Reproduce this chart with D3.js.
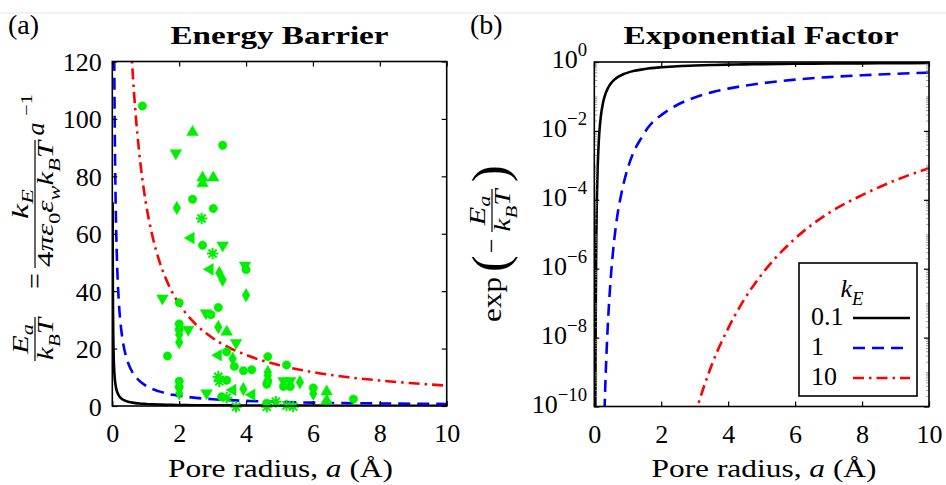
<!DOCTYPE html>
<html>
<head>
<meta charset="utf-8">
<script src="https://cdn.jsdelivr.net/npm/d3@7"></script>
<style>
  body { margin: 0; background: #fff; }
  svg { display: block; }
  svg text { font-family: "Liberation Serif", "Times New Roman", serif; }
</style>
</head>
<body>
<svg width="946" height="485"></svg>
<script>
// Pore radius grid (Angstrom) the barrier curves were read at
const radius = [0.01, 0.015, 0.02, 0.03, 0.04, 0.05, 0.06, 0.07, 0.08, 0.1, 0.12, 0.15, 0.2, 0.25, 0.3,
  0.35, 0.4, 0.45, 0.5, 0.6, 0.7, 0.8, 0.9, 1, 1.2, 1.4, 1.6, 1.8, 2, 2.5, 3, 3.5, 4, 4.5, 5, 6, 7, 8, 9, 10];

// Ea/kBT for each k_E
const barrierK01 = [71.0, 47.3, 35.5, 23.7, 17.75, 14.2, 11.83, 10.14, 8.875, 7.1, 5.92, 4.73, 3.55, 2.84, 2.37,
  2.03, 1.775, 1.58, 1.42, 1.18, 1.01, 0.89, 0.79, 0.71, 0.59, 0.51, 0.44, 0.39, 0.355, 0.284, 0.237, 0.203, 0.178, 0.158, 0.142, 0.118, 0.101, 0.089, 0.079, 0.071];
const barrierK1 = [710, 473, 355, 237, 177.5, 142, 118.3, 101.4, 88.75, 71, 59.2, 47.3, 35.5, 28.4, 23.7,
  20.3, 17.75, 15.8, 14.2, 11.8, 10.1, 8.9, 7.9, 7.1, 5.9, 5.1, 4.4, 3.9, 3.55, 2.84, 2.37, 2.03, 1.78, 1.58, 1.42, 1.18, 1.01, 0.89, 0.79, 0.71];
const barrierK10 = [7100, 4733, 3550, 2367, 1775, 1420, 1183, 1014, 888, 710, 592, 473, 355, 284, 237,
  203, 178, 158, 142, 118, 101.4, 88.8, 78.9, 71, 59.2, 50.7, 44.4, 39.4, 35.5, 28.4, 23.7, 20.3, 17.8, 15.8, 14.2, 11.8, 10.1, 8.9, 7.9, 7.1];

const kLabels = ["0.1", "1", "10"];

// Measured pores (green markers)
const scatterRadius = [0.9, 2.4, 3.3, 1.9, 2.7, 2.7, 3.02, 2.4, 1.93, 3.02, 2.67, 2.35, 2.7, 3.3, 3.0, 2.92, 3.2, 3.3,
  3.97, 4.0, 4.0, 1.5, 2.0, 3.17, 2.8, 2.95, 2.0, 2.0, 2.0, 2.0, 2.27, 3.17, 3.42, 3.7, 1.65, 3.17, 3.42, 3.6, 3.65,
  3.92, 4.17, 3.17, 3.2, 3.42, 2.0, 2.0, 2.0, 2.82, 3.27, 3.42, 3.6, 3.92, 4.17, 3.7, 4.65, 5.21, 4.65, 4.65, 4.65,
  4.62, 5.12, 5.12, 5.32, 5.32, 5.61, 6.01, 6.01, 6.41, 6.41, 7.21, 4.62, 4.62, 4.89, 5.21, 5.41];
const scatterBarrier = [104.5, 95.4, 90.8, 88.1, 79.5, 77.5, 79.5, 72, 69, 68.8, 65.3, 58.5, 56, 56, 53.1, 47.6, 46.3, 44,
  49, 47.5, 38.6, 37.5, 36, 34.3, 32.4, 31.8, 28.6, 26.6, 24.8, 22.2, 26.6, 27.5, 25.8, 22, 17.4, 17.7, 18.9, 16.5, 13.8,
  12.3, 12.6, 10.2, 8.6, 9.0, 8.6, 6.6, 4.4, 4.5, 3.2, 2.9, 5.6, 5.9, 3.9, -0.3, 17.2, 14.3, 11.8, 10.6, 8.6,
  7.6, 8.8, 6.8, 8.8, 6.8, 8.3, 6.3, 4.3, 5.0, 1.9, 2.4, 1.0, -0.3, 1.5, 0.2, -0.2];
const scatterShape = ["o", "^", "o", "v", "^", "^", "^", "o", "d", "o", "*", "<", "o", "v", "*", "<", "d", "d",
  "v", "o", "d", "v", "o", "o", "v", "o", "o", "o", "d", "d", "v", "d", "^", "v", "o", "<", "o", "d", "o",
  "o", "o", "*", "*", "o", "o", "o", "d", "v", "o", "*", "<", "d", "<", "*", "o", "o", "d", "d", "o",
  "o", "v", "o", "v", "o", "d", "o", "d", "^", "^", "o", "o", "*", "*", "*", "*"];

const barrierTicks = [0, 20, 40, 60, 80, 100, 120];
const radiusTicks = [0, 2, 4, 6, 8, 10];
const factorExponents = [0, -2, -4, -6, -8, -10];

const svg = d3.select("svg");
const GREEN = "#00ee00";
const series = [
  { k: kLabels[0], values: barrierK01, color: "#000", dash: null },
  { k: kLabels[1], values: barrierK1, color: "#0000ff", dash: "12,7" },
  { k: kLabels[2], values: barrierK10, color: "#ff0000", dash: "11,5,2.5,5" }
];

// faint rule at top of the page
svg.append("line").attr("x1", 0).attr("x2", 946).attr("y1", 13).attr("y2", 13)
  .attr("stroke", "#e4e4e4").attr("stroke-width", 1);

// Little helper for math-ish labels: parts are [text, flags] with i=italic, s=sub, p=sup
function mathText(g, x, y, parts, size, anchor, subDrop) {
  const t = g.append("text").attr("x", x).attr("y", y)
    .attr("font-size", size).attr("text-anchor", anchor || "middle");
  const drop = subDrop == null ? 0.3 : subDrop;
  let shift = 0;
  parts.forEach(([s, fl]) => {
    fl = fl || "";
    const small = fl.includes("s") || fl.includes("p");
    const target = fl.includes("s") ? size * drop : fl.includes("p") ? -size * 0.45 : 0;
    t.append("tspan")
      .attr("dy", target - shift)
      .attr("font-size", small ? size * 0.72 : size)
      .attr("font-style", fl.includes("i") ? "italic" : "normal")
      .text(s);
    shift = target;
  });
  return t;
}

// ---------- Panel (a) ----------
const xA = d3.scaleLinear().domain([0, 10]).range([112.3, 446.7]);
const yA = d3.scaleLinear().domain([0, 120]).range([406, 61.5]);

svg.append("clipPath").attr("id", "clipA").append("rect")
  .attr("x", xA(0)).attr("y", yA(120)).attr("width", xA(10) - xA(0)).attr("height", yA(0) - yA(120));

const gA = svg.append("g");
const lineA = d3.line().x((d, i) => xA(radius[i])).y(d => yA(d)).curve(d3.curveMonotoneX);

gA.append("g").attr("clip-path", "url(#clipA)")
  .selectAll("path").data(series).enter().append("path")
  .attr("d", d => lineA(d.values))
  .attr("fill", "none")
  .attr("stroke", d => d.color)
  .attr("stroke-width", 2.6)
  .attr("stroke-dasharray", d => d.dash);

// green markers
const triangle = d3.symbol().type(d3.symbolTriangle).size(58);
const circle = d3.symbol().type(d3.symbolCircle).size(56);
const diamond = d3.symbol().type(d3.symbolDiamond).size(52);
const star8 = {
  draw(ctx, size) {
    const r = Math.sqrt(size) / 2;
    for (let i = 0; i < 4; i++) {
      const a = i * Math.PI / 4;
      ctx.moveTo(r * Math.cos(a), r * Math.sin(a));
      ctx.lineTo(-r * Math.cos(a), -r * Math.sin(a));
    }
  }
};
const asterisk = d3.symbol().type(star8).size(130);

const pts = scatterRadius.map((r, i) => ({ r: r, e: scatterBarrier[i], s: scatterShape[i] }));
gA.append("g").selectAll("path").data(pts).enter().append("path")
  .attr("transform", d => {
    const rot = d.s === "v" ? 180 : d.s === "<" ? -90 : 0;
    return `translate(${xA(d.r)},${yA(d.e)}) rotate(${rot})`;
  })
  .attr("d", d => d.s === "o" ? circle() : d.s === "d" ? diamond() : d.s === "*" ? asterisk() : triangle())
  .attr("fill", d => d.s === "*" ? "none" : GREEN)
  .attr("stroke", GREEN)
  .attr("stroke-width", d => d.s === "*" ? 2 : 0.5);

// axes, ticks inside on all four sides
function styleAxis(g) {
  g.attr("font-family", null).attr("font-size", null);
  g.select(".domain").remove();
  g.selectAll(".tick line").attr("stroke", "#000").attr("stroke-width", 1.2);
  g.selectAll("text").attr("font-size", 26).attr("fill", "#000");
}
gA.append("g").attr("transform", `translate(0,${yA(0)})`)
  .call(d3.axisBottom(xA).tickValues(radiusTicks).tickSize(-5).tickFormat(d3.format("d")))
  .call(styleAxis)
  .call(g => g.selectAll("text").attr("y", 36).attr("dy", null));
gA.append("g").attr("transform", `translate(0,${yA(120)})`)
  .call(d3.axisTop(xA).tickValues(radiusTicks).tickSize(-5).tickFormat(""))
  .call(styleAxis);
gA.append("g").attr("transform", `translate(${xA(0)},0)`)
  .call(d3.axisLeft(yA).tickValues(barrierTicks).tickSize(-5).tickFormat(d3.format("d")))
  .call(styleAxis)
  .call(g => g.selectAll("text").attr("x", -10.5).attr("dy", 9));
gA.append("g").attr("transform", `translate(${xA(10)},0)`)
  .call(d3.axisRight(yA).tickValues(barrierTicks).tickSize(-5).tickFormat(""))
  .call(styleAxis);

gA.append("rect")
  .attr("x", xA(0)).attr("y", yA(120)).attr("width", xA(10) - xA(0)).attr("height", yA(0) - yA(120))
  .attr("fill", "none").attr("stroke", "#000").attr("stroke-width", 1.6);

svg.append("text").attr("x", 279.5).attr("y", 44).attr("text-anchor", "middle")
  .attr("font-size", 26).attr("font-weight", "bold")
  .attr("textLength", 218).attr("lengthAdjust", "spacingAndGlyphs")
  .text("Energy Barrier");
svg.append("text").attr("x", 8).attr("y", 34).attr("font-size", 28).text("(a)");
mathText(svg, 280.5, 477, [["Pore radius, "], ["a", "i"], [" (Å)"]], 26)
  .attr("textLength", 225).attr("lengthAdjust", "spacingAndGlyphs");

// y label of panel (a): Ea/kBT = kE/(4 pi eps0 epsw kB T) a^-1
const labA = svg.append("g").attr("transform", "translate(35,361) rotate(-90)");
labA.append("line").attr("x1", 0).attr("x2", 44).attr("stroke", "#000").attr("stroke-width", 1.2);
mathText(labA, 22, -7, [["E", "i"], ["a", "is"]], 23, "middle", 0.2).attr("textLength", 30).attr("lengthAdjust", "spacingAndGlyphs");
mathText(labA, 22, 18, [["k", "i"], ["B", "is"], ["T", "i"]], 23).attr("textLength", 42).attr("lengthAdjust", "spacingAndGlyphs");
mathText(labA, 80, 9, [["="]], 28);
labA.append("line").attr("x1", 93).attr("x2", 221).attr("stroke", "#000").attr("stroke-width", 1.2);
mathText(labA, 157, -7, [["k", "i"], ["E", "is"]], 23, "middle", 0.2).attr("textLength", 30).attr("lengthAdjust", "spacingAndGlyphs");
mathText(labA, 157, 18, [["4"], ["π", "i"], ["ε", "i"], ["0", "s"], ["ε", "i"], ["w", "is"], ["k", "i"], ["B", "is"], ["T", "i"]], 23)
  .attr("textLength", 126).attr("lengthAdjust", "spacingAndGlyphs");
mathText(labA, 232, 9, [["a", "i"]], 26);
mathText(labA, 256, -3, [["−1"]], 17).attr("textLength", 22).attr("lengthAdjust", "spacingAndGlyphs");

// ---------- Panel (b) ----------
const xB = d3.scaleLinear().domain([0, 10]).range([594.3, 929]);
const yB = d3.scaleLog().domain([1e-10, 1]).range([406.5, 62]);

svg.append("clipPath").attr("id", "clipB").append("rect")
  .attr("x", xB(0)).attr("y", yB(1)).attr("width", xB(10) - xB(0)).attr("height", yB(1e-10) - yB(1));

const gB = svg.append("g");
// exp(-Ea/kBT); points far under the axis floor are left out
const lineB = d3.line()
  .x(d => xB(d.r)).y(d => yB(d.f)).curve(d3.curveMonotoneX);
gB.append("g").attr("clip-path", "url(#clipB)")
  .selectAll("path").data(series).enter().append("path")
  .attr("d", d => lineB(d.values.map((e, i) => ({ r: radius[i], f: Math.exp(-e) })).filter(p => p.f > 1e-13)))
  .attr("fill", "none")
  .attr("stroke", d => d.color)
  .attr("stroke-width", 2.6)
  .attr("stroke-dasharray", d => d.dash);

gB.append("g").attr("transform", `translate(0,${yB(1e-10)})`)
  .call(d3.axisBottom(xB).tickValues(radiusTicks).tickSize(-5).tickFormat(d3.format("d")))
  .call(styleAxis)
  .call(g => g.selectAll("text").attr("y", 36).attr("dy", null));
gB.append("g").attr("transform", `translate(0,${yB(1)})`)
  .call(d3.axisTop(xB).tickValues(radiusTicks).tickSize(-5).tickFormat(""))
  .call(styleAxis);

// log minor ticks
const minor = [];
for (let p = -10; p < 0; p++) for (let m = 2; m <= 9; m++) minor.push(m * Math.pow(10, p));
for (let p = -9; p < 0; p += 2) minor.push(Math.pow(10, p));
[[xB(0), "axisLeft"], [xB(10), "axisRight"]].forEach(([x, kind]) => {
  gB.append("g").attr("transform", `translate(${x},0)`)
    .call(d3[kind](yB).tickValues(minor).tickSize(-3).tickFormat(""))
    .call(styleAxis)
    .call(g => g.selectAll(".tick line").attr("stroke", "#888").attr("stroke-width", 0.8));
  gB.append("g").attr("transform", `translate(${x},0)`)
    .call(d3[kind](yB).tickValues(factorExponents.map(p => Math.pow(10, p))).tickSize(-5).tickFormat(""))
    .call(styleAxis);
});

// y tick labels 10^p
factorExponents.forEach(p => {
  const y = yB(Math.pow(10, p));
  mathText(gB, 587, y + 6, [["10"], [p === 0 ? "0" : "−" + (-p), "p"]], 26, "end");
});

gB.append("rect")
  .attr("x", xB(0)).attr("y", yB(1)).attr("width", xB(10) - xB(0)).attr("height", yB(1e-10) - yB(1))
  .attr("fill", "none").attr("stroke", "#000").attr("stroke-width", 1.6);

svg.append("text").attr("x", 761).attr("y", 44).attr("text-anchor", "middle")
  .attr("font-size", 26).attr("font-weight", "bold")
  .attr("textLength", 275).attr("lengthAdjust", "spacingAndGlyphs")
  .text("Exponential Factor");
svg.append("text").attr("x", 470).attr("y", 34).attr("font-size", 28).text("(b)");
mathText(svg, 764, 477, [["Pore radius, "], ["a", "i"], [" (Å)"]], 26)
  .attr("textLength", 225).attr("lengthAdjust", "spacingAndGlyphs");

// y label of panel (b): exp(-Ea/kBT)
const labB = svg.append("g").attr("transform", "translate(492,322) rotate(-90)");
labB.append("text").attr("x", 0).attr("y", 9).attr("font-size", 28)
  .attr("textLength", 45).attr("lengthAdjust", "spacingAndGlyphs").text("exp");
labB.append("text").attr("x", 50).attr("y", 15).attr("font-size", 50).text("(");
labB.append("text").attr("x", 69).attr("y", 8).attr("font-size", 26).text("−");
labB.append("line").attr("x1", 90).attr("x2", 133).attr("stroke", "#000").attr("stroke-width", 1.2);
mathText(labB, 111.5, -7, [["E", "i"], ["a", "is"]], 23, "middle", 0.2).attr("textLength", 30).attr("lengthAdjust", "spacingAndGlyphs");
mathText(labB, 111.5, 18, [["k", "i"], ["B", "is"], ["T", "i"]], 23).attr("textLength", 42).attr("lengthAdjust", "spacingAndGlyphs");
labB.append("text").attr("x", 140).attr("y", 15).attr("font-size", 50).text(")");

// legend
const leg = svg.append("g");
leg.append("rect").attr("x", 799).attr("y", 263).attr("width", 118).attr("height", 133)
  .attr("fill", "#fff").attr("stroke", "#000").attr("stroke-width", 1.6);
mathText(leg, 852, 297, [["k", "i"], ["E", "is"]], 26);
const legY = d3.scalePoint().domain(kLabels).range([318, 378]);
series.forEach(s => {
  leg.append("text").attr("x", 811).attr("y", legY(s.k) + 7).attr("font-size", 26).text(s.k);
  leg.append("line").attr("x1", 853).attr("x2", 910).attr("y1", legY(s.k)).attr("y2", legY(s.k))
    .attr("stroke", s.color).attr("stroke-width", 2.6).attr("stroke-dasharray", s.dash);
});
</script>
</body>
</html>
